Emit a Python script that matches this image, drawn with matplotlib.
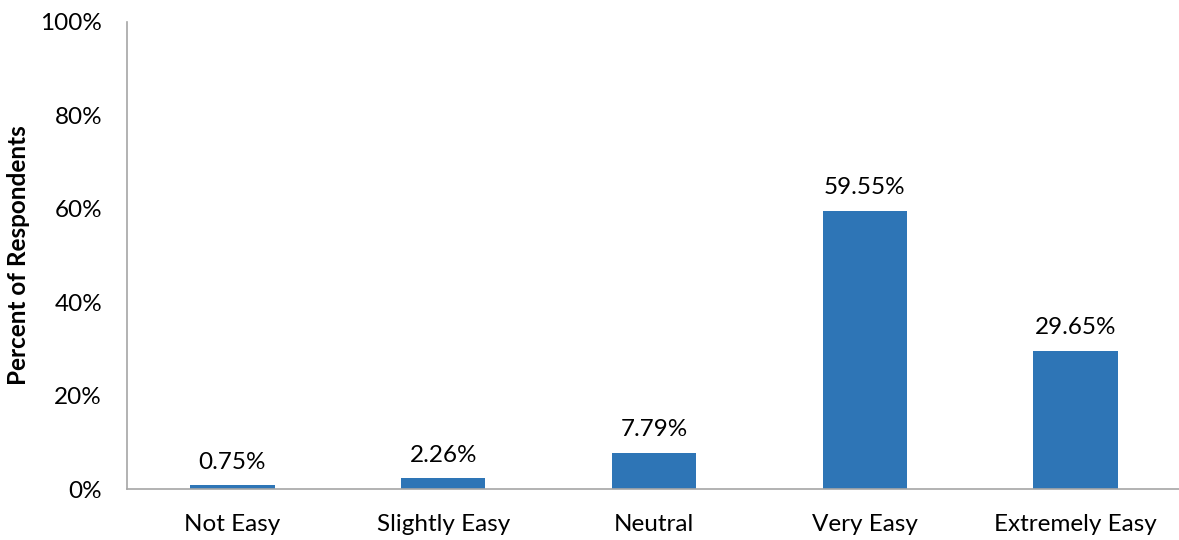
import matplotlib
matplotlib.use("Agg")
import matplotlib.pyplot as plt

categories = ["Not Easy", "Slightly Easy", "Neutral", "Very Easy", "Extremely Easy"]
values = [0.75, 2.26, 7.79, 59.55, 29.65]
yticks = [0, 20, 40, 60, 80, 100]
ytick_labels = ["0%", "20%", "40%", "60%", "80%", "100%"]

plt.rcParams['font.family'] = ['Lato', 'DejaVu Sans']

fig = plt.figure(figsize=(11.79, 5.4), dpi=100)
W, H = 1179, 540
ax = fig.add_axes([127 / W, 1 - 489 / H, (1181 - 127) / W, (489 - 22) / H])

x = range(len(categories))
bars = ax.bar(x, values, width=0.4, color="#2E75B6")
for xi, v in zip(x, values):
    ax.annotate(f"{v:.2f}%", (xi, v), xytext=(0, 9), textcoords="offset points",
                ha="center", va="bottom", fontsize=17.5, color="#000000")

ax.set_xlim(-0.5, len(categories) - 0.5)
ax.set_ylim(0, 100)
ax.set_yticks(yticks)
ax.set_yticklabels(ytick_labels, fontsize=17.5)
ax.set_xticks(list(x))
ax.set_xticklabels(categories, fontsize=17.5)
ax.tick_params(axis="both", length=0)
ax.tick_params(axis="y", pad=18)
ax.tick_params(axis="x", pad=18)
for s in ["top", "right"]:
    ax.spines[s].set_visible(False)
for s in ["left", "bottom"]:
    ax.spines[s].set_color("#A6A6A6")
    ax.spines[s].set_linewidth(1.2)

ax.set_ylabel("Percent of Respondents", fontsize=17.5, fontweight="bold")
ax.yaxis.set_label_coords((30 - 127) / (1181 - 127), 0.5)

fig.savefig("out.png", dpi=100)
